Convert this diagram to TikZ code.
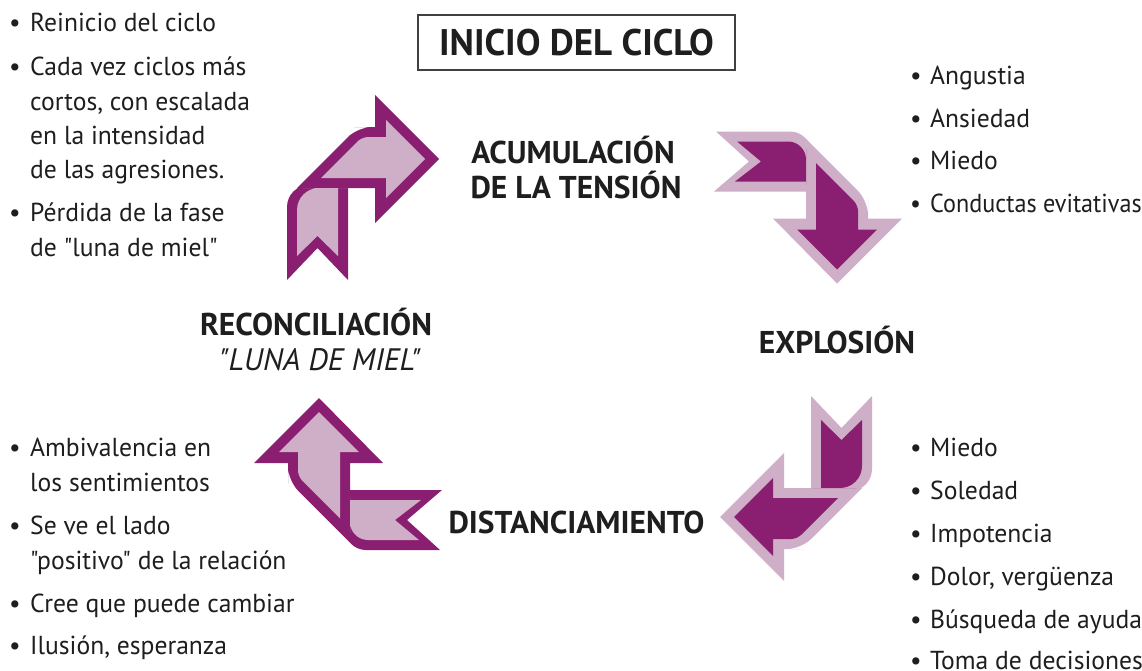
\documentclass[tikz,border=0pt]{standalone}
\usepackage{fontspec}
\setmainfont{PT Sans}[Ligatures=TeXOff]
\newfontfamily\listfont{PT Sans}[Ligatures=TeXOff,FakeStretch=0.985]
\newfontfamily\listfontn{PT Sans}[Ligatures=TeXOff,FakeStretch=0.93]
\definecolor{dp}{HTML}{8A1E70}
\definecolor{lp}{HTML}{CFAEC8}
\definecolor{ink}{HTML}{1E1E1E}
% shape A: ribbon arrow (vertical tail, horizontal shaft + head)
\newcommand\arrA[2]{%
 \fill[#1] (287,280) -- (287,230) {[rounded corners=22pt] -- (287,185) -- (330,185)} -- (348,185) -- (348,280) -- (317.5,248) -- cycle;
 \fill[#1] (336,188) -- (297,188) -- (327.5,157.5) {[rounded corners=14pt] -- (358,127) -- (368,127)} -- (375,127) -- (375,95) -- (439,159) -- (375,223) -- (375,188) -- cycle;
 \fill[#2] (297,256) -- (297,230) {[rounded corners=22pt] -- (297,188) -- (325,188)} -- (338,188) -- (338,256) -- (317.5,236) -- cycle;
 \fill[#2] (350,178) -- (321,178) -- (341,158) {[rounded corners=6pt] -- (362,137) -- (375,137)} -- (386,137) -- (386,120) -- (425,159) -- (386,198) -- (386,178) -- cycle;
}
% shape B: ribbon arrow (horizontal tail, vertical shaft + head)
\newcommand\arrB[2]{%
 \fill[#1] (345,490) -- (442,490) -- (407,520) -- (440,550) -- (390,550) {[rounded corners=21pt] -- (345,550) -- (345,515)} -- cycle;
 \fill[#1] (319,398) -- (383,463) -- (350,463) -- (350,542.5) -- (319,511.5) {[rounded corners=14pt] -- (288,480.5) -- (288,470)} -- (288,463) -- (254,463) -- cycle;
 \fill[#2] (319,412) -- (359,452) -- (340,452) -- (340,518.4) -- (319,497.4) {[rounded corners=6pt] -- (298,476.4) -- (298,465)} -- (298,452) -- (279,452) -- cycle;
 \fill[#2] (350,500) -- (421,500) -- (395,520) -- (419,540) -- (385,540) {[rounded corners=18pt] -- (350,540) -- (350,515)} -- cycle;
}
\newcommand\bul[1]{\makebox[#1][l]{•}}
\tikzset{
 lst/.style={anchor=base west, inner sep=0pt, text=ink, font=\listfont\fontsize{26}{30}\selectfont},
 hd/.style={anchor=base, inner sep=0pt, text=ink, font=\bfseries\fontsize{31.5}{35}\selectfont},
}
\begin{document}
\begin{tikzpicture}[x=1pt,y=-1pt]
\useasboundingbox (0,0) rectangle (1142,670);
\clip (0,0) rectangle (1142,670);
\fill[white] (0,0) rectangle (1142,670);
% arrows
\arrA{dp}{lp}
\begin{scope}[shift={(1159,676)},rotate=180]\arrA{lp}{dp}\end{scope}
\arrB{dp}{lp}
\begin{scope}[shift={(1156,681.5)},rotate=180]\arrB{lp}{dp}\end{scope}
% title box
\node[draw=ink!85, line width=1.4pt, minimum width=317pt, minimum height=55pt, inner sep=0pt, text=ink,
 font=\bfseries\fontsize{37}{41}\selectfont] (inicio) at (576.5,42.5) {INICIO DEL CICLO};
% stage headings
\node[hd] (acu1) at (573,163) {ACUMULACIÓN};
\node[hd] (acu2) at (576,198) {DE LA TENSIÓN};
\node[hd] (explo) at (837,353) {EXPLOSIÓN};
\node[hd] (recon) at (316,335) {RECONCILIACIÓN};
\node[anchor=base, inner sep=0pt, text=ink, font=\itshape\fontsize{31}{34}\selectfont] (luna) at (320,370) {"LUNA DE MIEL"};
\node[hd] (dist) at (576.5,533) {DISTANCIAMIENTO};
% top-left list
\node[lst] (tl1) at (9,31) {\bul{21pt}Reinicio del ciclo};
\node[lst] (tl2) at (9,75) {\bul{21pt}Cada vez ciclos más};
\node[lst] (tl3) at (30,110) {cortos, con escalada};
\node[lst] (tl4) at (30,144) {en la intensidad};
\node[lst] (tl5) at (30,178) {de las agresiones.};
\node[lst] (tl6) at (9,221) {\bul{21pt}Pérdida de la fase};
\node[lst] (tl7) at (30,256) {de "luna de miel"};
% top-right list
\node[lst] (tr1) at (910,84) {\bul{20pt}Angustia};
\node[lst] (tr2) at (910,127) {\bul{20pt}Ansiedad};
\node[lst] (tr3) at (910,169) {\bul{20pt}Miedo};
\node[lst, font=\listfontn\fontsize{26}{30}\selectfont] (tr4) at (910,212) {\bul{20pt}Conductas evitativas};
% bottom-right list
\node[lst] (br1) at (910,456) {\bul{20pt}Miedo};
\node[lst] (br2) at (910,499) {\bul{20pt}Soledad};
\node[lst] (br3) at (910,542) {\bul{20pt}Impotencia};
\node[lst] (br4) at (910,585) {\bul{20pt}Dolor, vergüenza};
\node[lst] (br5) at (910,628) {\bul{20pt}Búsqueda de ayuda};
\node[lst] (br6) at (910,669) {\bul{20pt}Toma de decisiones};
% bottom-left list
\node[lst] (bl1) at (9,456) {\bul{21pt}Ambivalencia en};
\node[lst] (bl2) at (30,491) {los sentimientos};
\node[lst] (bl3) at (9,534) {\bul{21pt}Se ve el lado};
\node[lst] (bl4) at (30,569) {"positivo" de la relación};
\node[lst] (bl5) at (9,612) {\bul{21pt}Cree que puede cambiar};
\node[lst] (bl6) at (9,654) {\bul{21pt}Ilusión, esperanza};
\end{tikzpicture}
\end{document}
